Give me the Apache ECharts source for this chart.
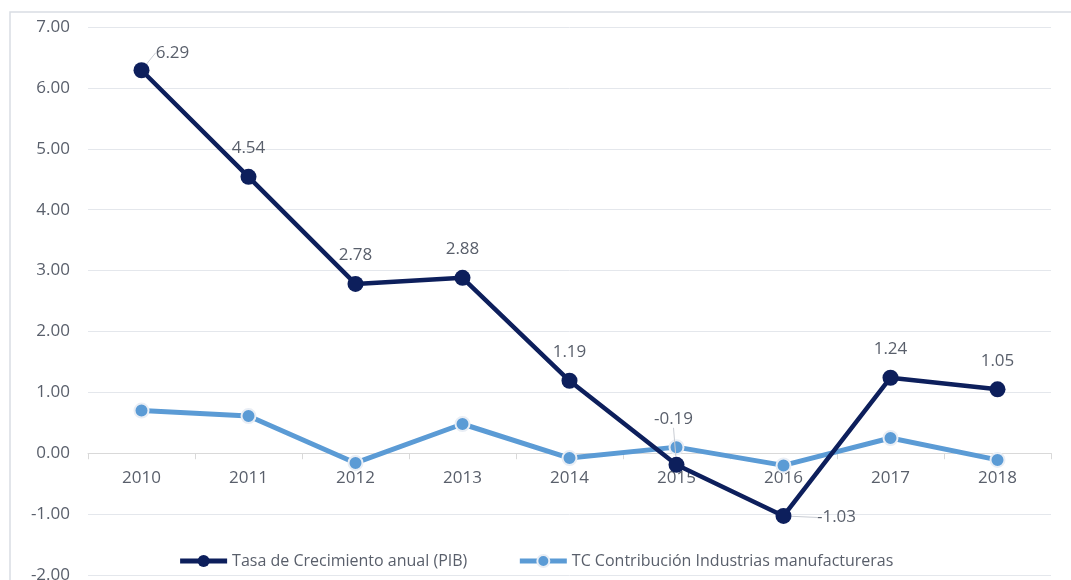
<!DOCTYPE html>
<html><head><meta charset="utf-8">
<script src="https://cdn.jsdelivr.net/npm/echarts@6/dist/echarts.min.js"></script>
<style>html,body{margin:0;padding:0;background:#fff}#c{width:1071px;height:580px}</style>
</head><body><div id="c"></div>
<script>
const categories = ['2010','2011','2012','2013','2014','2015','2016','2017','2018'];
const pibValues = [6.29, 4.54, 2.78, 2.88, 1.19, -0.19, -1.03, 1.24, 1.05];
const manufValues = [0.70, 0.61, -0.16, 0.48, -0.08, 0.10, -0.20, 0.25, -0.11];
const seriesNames = ['Tasa de Crecimiento anual (PIB)', 'TC Contribución Industrias manufactureras'];
const yMin = -2, yMax = 7;

const font = "'Open Sans', 'Noto Sans', sans-serif";
const txt = '#595f6b';
const gridTop = 27, gridBottomPx = 575, H = 580;
const plotH = gridBottomPx - gridTop;
const chart = echarts.init(document.getElementById('c'));
const labelShift = {0: [31, 11], 5: [-3, -17], 6: [53, 30]};
const pibData = pibValues.map((v, i) => ({value: v, labelLine: {show: !!labelShift[i]}}));
chart.setOption({
  animation: false,
  graphic: [{type: 'rect', shape: {x: 10, y: 12, width: 1100, height: 620},
    style: {fill: 'none', stroke: '#d9dde3', lineWidth: 1.5}, silent: true, z: -1}],
  grid: {left: 88, right: 20, top: gridTop, bottom: H - gridBottomPx, outerBoundsMode: 'none', containLabel: false},
  legend: {
    top: 548, left: 'center', itemGap: 50, itemWidth: 47, itemHeight: 15,
    textStyle: {fontFamily: font, fontSize: 16, color: txt},
    lineStyle: {width: 5},
    data: seriesNames
  },
  xAxis: {
    type: 'category', data: categories, boundaryGap: true,
    offset: -plotH * (0 - yMin) / (yMax - yMin),
    axisLine: {onZero: false, lineStyle: {color: '#d9d9d9', width: 1}},
    axisTick: {show: true, length: 6, lineStyle: {color: '#d9d9d9'}},
    axisLabel: {fontFamily: font, fontSize: 17, color: txt, margin: 16}
  },
  yAxis: {
    type: 'value', min: yMin, max: yMax, interval: 1,
    axisLine: {show: false}, axisTick: {show: false},
    splitLine: {lineStyle: {color: '#e4e7ec', width: 1}},
    axisLabel: {fontFamily: font, fontSize: 17, color: txt, margin: 18,
      formatter: v => v.toFixed(2)}
  },
  series: [
    {
      name: seriesNames[0], type: 'line', data: pibData, z: 3,
      symbol: 'circle', symbolSize: 16,
      lineStyle: {color: '#0d1f5c', width: 4.5},
      itemStyle: {color: '#0d1f5c'},
      label: {show: true, position: 'top', distance: 12, fontFamily: font, fontSize: 17, color: txt,
        formatter: p => p.value.toFixed(2)},
      labelLine: {show: true, lineStyle: {color: '#c8ccd3', width: 1}},
      labelLayout: p => {
        const s = labelShift[p.dataIndex];
        return s ? {dx: s[0], dy: s[1]} : {};
      }
    },
    {
      name: seriesNames[1], type: 'line', data: manufValues, z: 2,
      symbol: 'circle', symbolSize: 14,
      lineStyle: {color: '#5b9bd5', width: 5},
      itemStyle: {color: '#5b9bd5', borderColor: '#e9eef5', borderWidth: 2}
    }
  ]
});
</script></body></html>
